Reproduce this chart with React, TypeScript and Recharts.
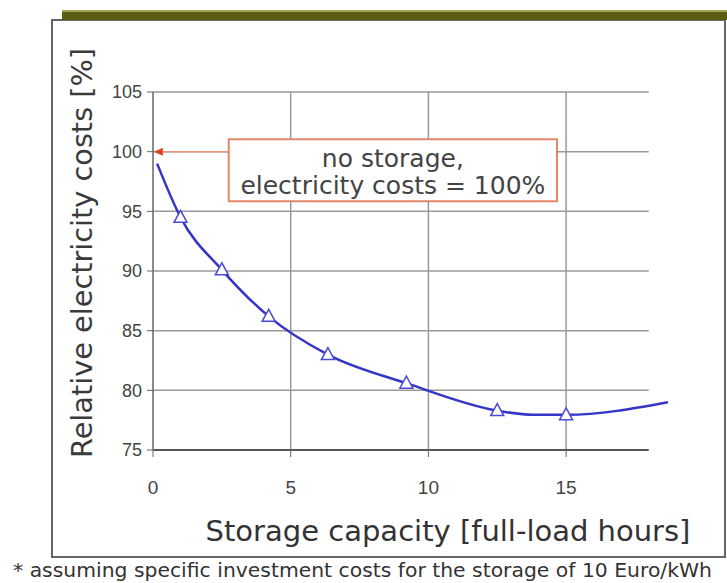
import React from "react";
import {
  ComposedChart,
  Line,
  Scatter,
  XAxis,
  YAxis,
  ReferenceLine,
  ReferenceArea,
  ReferenceDot,
} from "recharts";

// curve (hours, % cost)
const curveHours = [0.15, 1, 2.5, 4.2, 6.35, 9.2, 12.5, 13.8, 15, 18.7];
const curveCost = [99.0, 94.5, 90.1, 86.2, 83.0, 80.6, 78.3, 77.95, 77.95, 79.0];

// triangle markers
const markerHours = [1, 2.5, 4.2, 6.35, 9.2, 12.5, 15];
const markerCost = [94.5, 90.1, 86.2, 83.0, 80.6, 78.3, 77.95];

const xTicks = [0, 5, 10, 15];
const yTicks = [75, 80, 85, 90, 95, 100, 105];

const yTitle = "Relative electricity costs [%]";
const xTitle = "Storage capacity [full-load hours]";
const note = "* assuming specific investment costs for the storage of 10 Euro/kWh";
const boxLines = ["no storage,", "electricity costs = 100%"];

// annotation box extent (data units)
const boxX = [2.75, 14.67];
const boxY = [95.84, 101.05];

const curveData = curveHours.map((h, i) => ({ x: h, y: curveCost[i] }));
const markerData = markerHours.map((h, i) => ({ x: h, y: markerCost[i] }));

const VERDANA = "DejaVu Sans, Verdana, sans-serif";
const ARIAL = "Liberation Sans, Arial, sans-serif";

const Triangle = (props: any) => {
  const { cx, cy } = props;
  if (cx == null || cy == null) return null;
  return (
    <polygon
      points={`${cx},${cy - 7} ${cx - 6.5},${cy + 5} ${cx + 6.5},${cy + 5}`}
      fill="#fff"
      stroke="#4b4bd6"
      strokeWidth={1.5}
    />
  );
};

const ArrowHead = (props: any) => {
  const { cx, cy } = props;
  return (
    <polygon
      points={`${cx},${cy} ${cx + 9},${cy - 4} ${cx + 9},${cy + 4}`}
      fill="#e0401e"
    />
  );
};

const boxText = (props: any) => {
  const vb = props.viewBox || {};
  const cx = vb.x + vb.width / 2;
  return (
    <g>
      <text x={cx} y={vb.y + 28} textAnchor="middle" fontFamily={VERDANA} fontSize={25} fill="#444">
        {boxLines[0]}
      </text>
      <text x={cx} y={vb.y + 55} textAnchor="middle" fontFamily={VERDANA} fontSize={25} fill="#444">
        {boxLines[1]}
      </text>
    </g>
  );
};

// grid pieces, leaving out the parts hidden by the box
const vSegments = xTicks
  .filter((v) => v > 0)
  .flatMap((v) =>
    v > boxX[0] && v < boxX[1]
      ? [
          [v, 75, boxY[0]],
          [v, boxY[1], 105],
        ]
      : [[v, 75, 105]]
  );
const hSegments = yTicks
  .filter((v) => v > 75)
  .flatMap((v) =>
    v > boxY[0] && v < boxY[1]
      ? [
          [v, 0, boxX[0]],
          [v, boxX[1], 18],
        ]
      : [[v, 0, 18]]
  );

export default function App() {
  return (
    <div style={{ position: "absolute", left: 0, top: 0, width: 727, height: 583, background: "#fff" }}>
      <svg width={727} height={583} style={{ position: "absolute", left: 0, top: 0 }}>
        <rect x={52} y={20} width={673} height={537} fill="#fff" stroke="#666" strokeWidth={2} />
        <rect x={62} y={10} width={665} height={10} fill="#5b5e10" />
        <rect x={62} y={10} width={665} height={2} fill="#a9a45c" />
        <text
          x={82}
          y={253}
          transform="rotate(-90, 82, 253)"
          textAnchor="middle"
          dominantBaseline="central"
          fontFamily={VERDANA}
          fontSize={28}
          fill="#3a3a3a"
          textLength={410}
          lengthAdjust="spacingAndGlyphs"
        >
          {yTitle}
        </text>
        <text x={448} y={541} textAnchor="middle" fontFamily={VERDANA} fontSize={29} fill="#333">
          {xTitle}
        </text>
        <text
          x={13}
          y={577}
          fontFamily={VERDANA}
          fontSize={20}
          fill="#333"
          textLength={699}
          lengthAdjust="spacingAndGlyphs"
        >
          {note}
        </text>
      </svg>
      <div style={{ position: "absolute", left: 0, top: 0 }}>
        <ComposedChart width={727} height={583} margin={{ top: 92, right: 59, bottom: 103, left: 93 }}>
          <XAxis
            type="number"
            dataKey="x"
            domain={[0, 18.7]}
            allowDataOverflow
            ticks={xTicks}
            height={30}
            axisLine={false}
            tickSize={7}
            tickMargin={24}
            tickLine={{ stroke: "#666" }}
            tick={{ fill: "#444", fontSize: 19, fontFamily: ARIAL }}
          />
          <YAxis
            type="number"
            dataKey="y"
            domain={[75, 105]}
            allowDataOverflow
            ticks={yTicks}
            width={60}
            tickSize={6}
            tickMargin={5}
            axisLine={{ stroke: "#666", strokeWidth: 1.5 }}
            tickLine={{ stroke: "#666" }}
            tick={{ fill: "#444", fontSize: 18, fontFamily: ARIAL }}
          />
          {vSegments.map(([x, y0, y1], i) => (
            <ReferenceLine
              key={"v" + i}
              segment={[
                { x, y: y0 },
                { x, y: y1 },
              ]}
              stroke="#999"
              strokeWidth={1.5}
            />
          ))}
          {hSegments.map(([y, x0, x1], i) => (
            <ReferenceLine
              key={"h" + i}
              segment={[
                { x: x0, y },
                { x: x1, y },
              ]}
              stroke="#999"
              strokeWidth={1.5}
            />
          ))}
          <ReferenceLine
            segment={[
              { x: 0, y: 75 },
              { x: 18, y: 75 },
            ]}
            stroke="#555"
            strokeWidth={2}
          />
          <ReferenceLine
            segment={[
              { x: 0.3, y: 100 },
              { x: boxX[0], y: 100 },
            ]}
            stroke="#e8957a"
            strokeWidth={1.5}
          />
          <ReferenceDot x={0.03} y={100} shape={ArrowHead} />
          <ReferenceArea
            x1={boxX[0]}
            x2={boxX[1]}
            y1={boxY[0]}
            y2={boxY[1]}
            fill="#fff"
            fillOpacity={1}
            stroke="#e3866a"
            strokeWidth={2}
            label={boxText}
          />
          <Line
            data={curveData}
            dataKey="y"
            type="monotone"
            stroke="#3535c6"
            strokeWidth={2.5}
            dot={false}
            isAnimationActive={false}
          />
          <Scatter data={markerData} dataKey="y" shape={Triangle} isAnimationActive={false} />
        </ComposedChart>
      </div>
    </div>
  );
}
